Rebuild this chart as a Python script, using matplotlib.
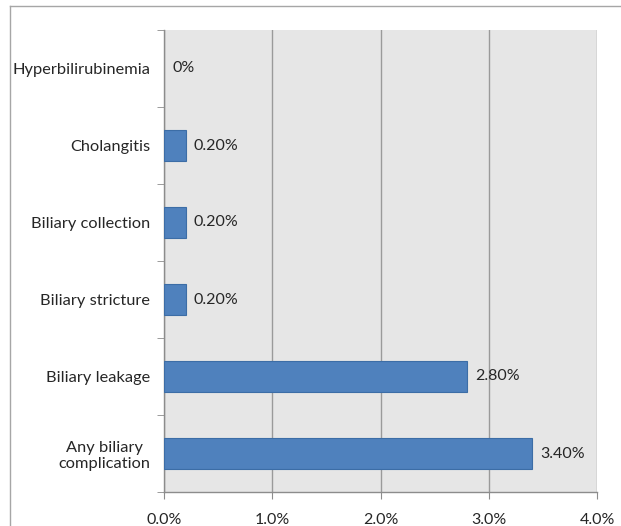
import matplotlib
matplotlib.use("Agg")
import matplotlib.pyplot as plt
from matplotlib.lines import Line2D
from matplotlib.ticker import FixedLocator

categories = ["Any biliary\ncomplication", "Biliary leakage", "Biliary stricture",
              "Biliary collection", "Cholangitis", "Hyperbilirubinemia"]
values = [3.4, 2.8, 0.2, 0.2, 0.2, 0.0]
value_labels = ["3.40%", "2.80%", "0.20%", "0.20%", "0.20%", "0%"]
xticks = [0, 1, 2, 3, 4]
xtick_labels = ["0.0%", "1.0%", "2.0%", "3.0%", "4.0%"]

plt.rcParams['font.family'] = ['Lato', 'DejaVu Sans']
fig = plt.figure(figsize=(6.21, 5.26), dpi=100)
fig.patch.set_facecolor("white")
ax = fig.add_axes([164/621, 1-492/526, (597-164)/621, (492-30)/526])
ax.set_facecolor("#e6e6e6")

y = list(range(len(categories)))
ax.barh(y, values, height=0.4, color="#4f81bd", edgecolor="#3c6da6",
        linewidth=[0.8 if v > 0 else 0 for v in values], zorder=3)
for yi, v, lab in zip(y, values, value_labels):
    ax.text(v + 0.075, yi, lab, va="center", ha="left", fontsize=11.5, color="#262626", zorder=4)

ax.set_xlim(0, 4)
ax.set_ylim(-0.5, len(categories) - 0.5)
ax.set_xticks(xticks)
ax.set_xticklabels(xtick_labels, fontsize=11.5, color="#262626")
ax.set_yticks(y)
ax.set_yticklabels(categories, fontsize=11.8, color="#262626", ha="right", multialignment="center")
ax.tick_params(axis="y", length=0, pad=10)
ax.yaxis.set_minor_locator(FixedLocator([i - 0.5 for i in range(len(categories) + 1)]))
ax.tick_params(axis="y", which="minor", length=5, color="#8c8c8c", direction="out")
ax.tick_params(axis="x", length=5, color="#8c8c8c", direction="out", pad=10)
ax.grid(axis="x", color="#9a9a9a", linewidth=1.0, zorder=1)
ax.set_axisbelow(True)
for s in ["top", "right"]:
    ax.spines[s].set_visible(False)
for s in ["left", "bottom"]:
    ax.spines[s].set_color("#8c8c8c")
    ax.spines[s].set_linewidth(1.0)

# figure border
fig.add_artist(Line2D([10/621, 1], [1-6/526, 1-6/526], color="#a6a6a6", lw=1.0, transform=fig.transFigure))
fig.add_artist(Line2D([10/621, 10/621], [0, 1-6/526], color="#a6a6a6", lw=1.0, transform=fig.transFigure))

fig.savefig("out.png", dpi=100)
